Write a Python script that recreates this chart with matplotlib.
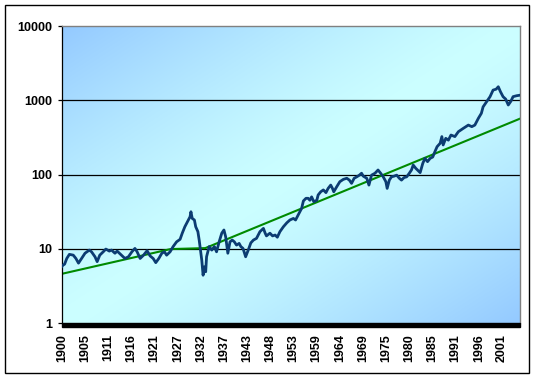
import numpy as np
import matplotlib
matplotlib.use("Agg")
import matplotlib.pyplot as plt
from matplotlib.patches import Rectangle

plt.rcParams['font.family'] = ['Liberation Sans', 'DejaVu Sans']

# Chỉ số (trục log)
years = [1900.0, 1900.2, 1900.6, 1901.1, 1901.7, 1902.6, 1903.2, 1903.8, 1904.5, 1905.3,
         1906.3, 1906.8, 1907.6, 1908.1, 1908.7, 1909.5, 1910.1, 1910.9, 1911.4, 1912.2,
         1912.7, 1913.7, 1914.5, 1915.3, 1916.1, 1916.8, 1917.3, 1918.0, 1918.7, 1919.6,
         1920.3, 1921.0, 1921.6, 1922.3, 1923.0, 1923.6, 1924.1, 1924.9, 1925.6, 1926.4,
         1927.2, 1927.7, 1928.3, 1928.9, 1929.5, 1929.7, 1930.0, 1930.5, 1930.8, 1931.3,
         1931.6, 1931.9, 1932.2, 1932.5, 1932.8, 1933.1, 1933.3, 1933.9, 1934.5, 1935.1,
         1935.6, 1936.2, 1936.8, 1937.3, 1937.7, 1938.2, 1938.7, 1939.2, 1939.7, 1940.2,
         1940.8, 1941.2, 1941.7, 1942.3, 1942.9, 1943.5, 1944.1, 1944.8, 1945.6, 1946.4,
         1946.8, 1947.1, 1947.9, 1948.5, 1949.1, 1949.6, 1950.2, 1951.0, 1951.8, 1952.5,
         1953.3, 1953.8, 1954.4, 1955.2, 1955.6, 1956.2, 1956.7, 1957.1, 1957.5, 1958.0,
         1958.7, 1959.0, 1959.6, 1960.2, 1960.8, 1961.3, 1961.9, 1962.3, 1962.6, 1963.3,
         1964.0, 1964.8, 1965.6, 1966.2, 1966.7, 1967.3, 1967.9, 1968.5, 1969.0, 1969.4,
         1970.2, 1970.7, 1971.3, 1972.1, 1972.8, 1973.4, 1974.0, 1974.6, 1974.9, 1975.4,
         1975.9, 1976.5, 1977.1, 1977.7, 1978.2, 1978.8, 1979.4, 1980.0, 1980.5, 1980.9,
         1981.5, 1982.1, 1982.5, 1983.1, 1983.6, 1984.2, 1984.8, 1985.4, 1985.9, 1986.4,
         1987.1, 1987.5, 1987.8, 1988.4, 1989.0, 1989.6, 1990.5, 1991.3, 1992.4, 1993.6,
         1994.4, 1995.1, 1995.9, 1996.6, 1997.0, 1997.8, 1998.6, 1999.3, 2000.0, 2000.5,
         2001.0, 2001.6, 2002.2, 2002.8, 2003.4, 2003.9, 2004.7, 2005.5]
index = [5.8, 6.0, 6.2, 7.4, 8.4, 8.2, 7.4, 6.4, 7.4, 8.7,
         9.6, 9.1, 7.8, 6.7, 8.2, 9.1, 9.9, 9.3, 9.6, 8.7,
         9.3, 8.2, 7.4, 7.8, 9.1, 10.1, 9.1, 7.4, 8.1, 9.4,
         8.0, 7.4, 6.5, 7.4, 8.7, 9.1, 8.2, 9.1, 10.7, 12.4,
         13.4, 16.2, 19.8, 23.1, 27.0, 31.5, 25.6, 24.4, 19.8, 17.0,
         13.1, 9.6, 7.0, 4.4, 5.7, 4.9, 7.8, 10.7, 9.6, 10.7,
         9.1, 12.4, 16.2, 17.9, 14.5, 8.7, 12.4, 13.1, 12.4, 11.2,
         11.8, 10.7, 10.1, 7.8, 9.6, 12.0, 13.1, 13.8, 17.0, 18.8,
         16.2, 14.9, 16.2, 14.9, 15.3, 14.3, 17.0, 19.8, 22.4, 24.4,
         25.6, 24.4, 28.5, 35.0, 44.0, 47.8, 47.8, 45.0, 50.0, 43.0,
         45.0, 53.0, 58.5, 62.0, 57.0, 65.0, 72.0, 65.0, 58.5, 68.7,
         80.0, 86.0, 89.0, 84.0, 76.0, 89.0, 93.0, 98.0, 104.0, 95.0,
         89.0, 72.0, 98.0, 104.0, 115.0, 104.0, 93.0, 80.0, 65.0, 84.0,
         93.0, 95.0, 98.0, 89.0, 84.0, 91.0, 93.0, 104.0, 115.0, 134.0,
         121.0, 112.0, 106.0, 141.0, 165.0, 149.0, 165.0, 172.0, 203.0, 237.0,
         263.0, 324.0, 250.0, 307.0, 290.0, 340.0, 324.0, 377.0, 417.0, 463.0,
         441.0, 463.0, 570.0, 667.0, 815.0, 955.0, 1117.0, 1370.0, 1410.0, 1520.0,
         1303.0, 1117.0, 1036.0, 863.0, 970.0, 1117.0, 1150.0, 1170.0]

# Đường xu hướng (màu xanh lá)
trend_years = [1900.0, 1925.0, 1933.0, 2005.5]
trend_values = [4.6, 9.9, 10.2, 565.0]

tick_labels = ['1900', '1905', '1911', '1916', '1921', '1927', '1932', '1937', '1943', '1948',
               '1953', '1959', '1964', '1969', '1975', '1980', '1985', '1991', '1996', '2001']
tick_pos = [1900 + i * 16 / 3 for i in range(len(tick_labels))]
y_ticks = [1, 10, 100, 1000, 10000]

fig = plt.figure(figsize=(5.36, 3.79), dpi=100)
ax = fig.add_axes([62 / 536, 1 - 323 / 379, 458 / 536, 297 / 379])

# Khung viền ngoài
fig.patches.append(Rectangle((5 / 536, 1 - 373 / 379), 524 / 536, 368 / 379,
                             transform=fig.transFigure, fill=False,
                             edgecolor='black', linewidth=1))

# Nền gradient chéo: xanh ở góc trên trái và dưới phải, xanh nhạt ở giữa
u = np.linspace(0, 1, 200)
v = np.linspace(1, 0, 200)
U, V = np.meshgrid(u, v)
t = np.abs(U - V) ** 1.3
c0 = np.array([0.80, 1.0, 1.0])
c1 = np.array([0.58, 0.79, 1.0])
img = c0 + (c1 - c0) * t[..., None]
ax.imshow(img, extent=[0, 1, 0, 1], transform=ax.transAxes, aspect='auto',
          zorder=0, origin='upper')

for yv in [10, 100, 1000]:
    ax.axhline(yv, color='black', linewidth=0.9, zorder=1)

ax.plot(years, index, color='#0c3c72', linewidth=2.0, zorder=3)
ax.plot(trend_years, trend_values, color='#008a00', linewidth=1.5, zorder=2)

ax.set_yscale('log')
ax.set_ylim(1, 10000)
ax.set_xlim(1900, 2005.5)
ax.set_yticks(y_ticks)
ax.set_yticklabels([str(v) for v in y_ticks], fontsize=9, fontweight='bold')
ax.yaxis.set_minor_locator(matplotlib.ticker.NullLocator())
ax.set_xticks(tick_pos)
ax.set_xticklabels(tick_labels, rotation=90, fontsize=9, fontweight='bold')
ax.tick_params(axis='x', length=0, pad=8)
ax.tick_params(axis='y', length=3, width=0.9, pad=4, direction='out')

ax.spines['left'].set_color('black')
ax.spines['left'].set_linewidth(0.9)
for s in ['top', 'right']:
    ax.spines[s].set_color('#808080')
    ax.spines[s].set_linewidth(1)
ax.spines['bottom'].set_visible(False)

# Dải đen dưới trục x
ax.add_patch(Rectangle((0, -4 / 297), 1, 4 / 297, transform=ax.transAxes,
                       clip_on=False, color='black', zorder=4))

fig.savefig('out.png', dpi=100)
